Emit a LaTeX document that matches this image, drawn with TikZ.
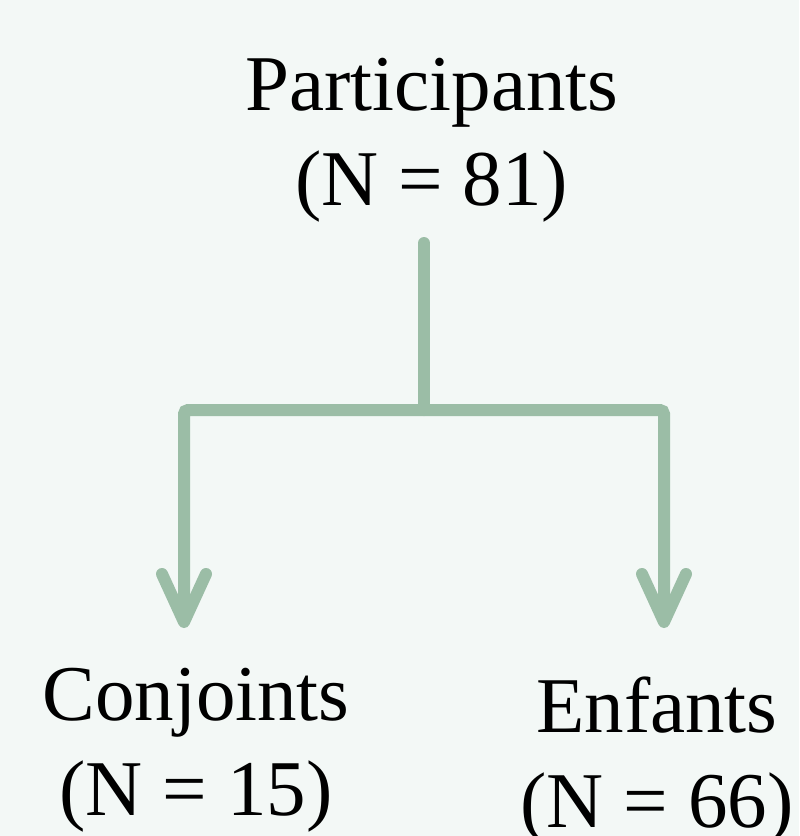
\documentclass[tikz,border=0pt]{standalone}
\usepackage{fontspec}
\setmainfont{Liberation Serif}
\usetikzlibrary{arrows.meta}
\definecolor{sage}{HTML}{9BBDA6}
\definecolor{paper}{HTML}{F3F8F6}

\begin{document}
\begin{tikzpicture}[x=0.5pt, y=-0.5pt,
    txt/.style={align=center, inner sep=0pt, anchor=base, font=\fontsize{39.5}{47.5}\selectfont},
    link/.style={draw=sage, line width=6pt, line cap=round, rounded corners=2pt},
    arrow/.style={link, -{Straight Barb[length=24pt, width=22pt, round]}}
]
    % Background
    \fill[paper] (0,0) rectangle (799,836);
    \useasboundingbox (0,0) rectangle (799,836);

    % Groups
    \node[txt] (parts) at (432,205) {Participants\\(N = 81)};
    \node[txt] (conj) at (196,815) {Conjoints\\(N = 15)};
    \node[txt] (enf) at (657,827) {Enfants\\(N = 66)};

    % Branch points
    \coordinate (stem) at (424,243);
    \coordinate (split) at (424,410);
    \coordinate (conjtip) at (184,628);
    \coordinate (enftip) at (664,628);

    % Arrows
    \draw[link] (stem) -- (split);
    \draw[arrow] (split) -| (conjtip);
    \draw[arrow] (split) -| (enftip);

\end{tikzpicture}
\end{document}
